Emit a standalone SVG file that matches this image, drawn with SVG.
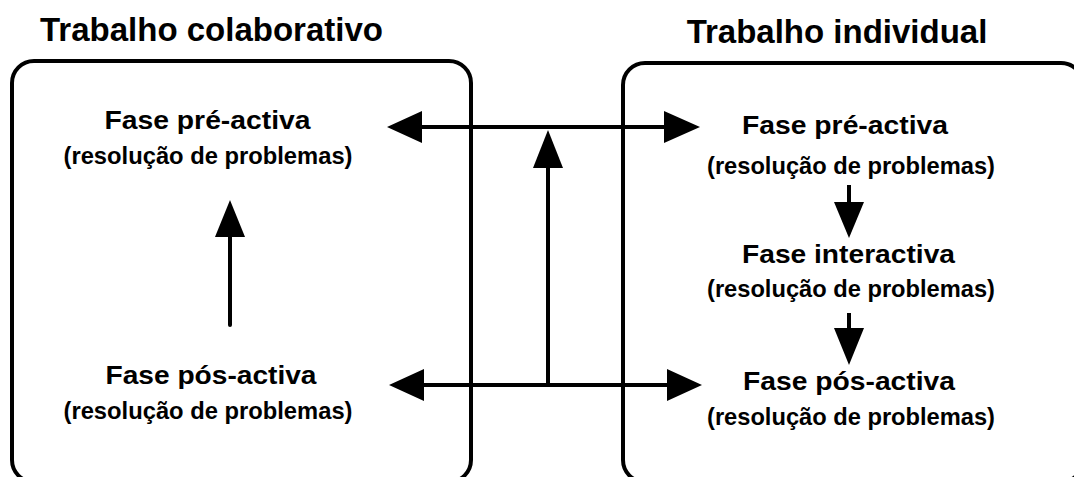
<svg xmlns="http://www.w3.org/2000/svg" width="1074" height="477" viewBox="0 0 1074 477">
<style>
  text { font-family: "Liberation Sans", Arial, sans-serif; font-weight: bold; fill: #000; text-anchor: middle; }
  .title { font-size: 33px; }
  .phase { font-size: 25px; }
  .sub { font-size: 24px; }
  .box { fill: none; stroke: #000; stroke-width: 4; }
  .line { fill: none; stroke: #000; stroke-width: 4; }
  .head { fill: #000; stroke: none; }
</style>
<rect width="1074" height="477" fill="#fff"/>
<g id="title-colaborativo"><text class="title" x="211.5" y="41">Trabalho colaborativo</text></g>
<g id="title-individual"><text class="title" x="837" y="43">Trabalho individual</text></g>
<g id="box-colaborativo"><rect class="box" x="12" y="61" width="459" height="421" rx="22" ry="22"/></g>
<g id="box-individual"><rect class="box" x="623" y="63" width="460" height="419" rx="22" ry="22"/></g>
<g id="col-pre">
  <text class="phase" x="207.5" y="129" textLength="206" lengthAdjust="spacingAndGlyphs">Fase pré-activa</text>
  <text class="sub" x="208" y="164" textLength="289" lengthAdjust="spacingAndGlyphs">(resolução de problemas)</text>
</g>
<g id="col-pos">
  <text class="phase" x="211" y="384" textLength="211" lengthAdjust="spacingAndGlyphs">Fase pós-activa</text>
  <text class="sub" x="208" y="419" textLength="289" lengthAdjust="spacingAndGlyphs">(resolução de problemas)</text>
</g>
<g id="ind-pre">
  <text class="phase" x="845" y="134" textLength="206" lengthAdjust="spacingAndGlyphs">Fase pré-activa</text>
  <text class="sub" x="851" y="174" textLength="288" lengthAdjust="spacingAndGlyphs">(resolução de problemas)</text>
</g>
<g id="ind-inter">
  <text class="phase" x="848.5" y="263" textLength="213" lengthAdjust="spacingAndGlyphs">Fase interactiva</text>
  <text class="sub" x="851" y="297" textLength="288" lengthAdjust="spacingAndGlyphs">(resolução de problemas)</text>
</g>
<g id="ind-pos">
  <text class="phase" x="849" y="390" textLength="212" lengthAdjust="spacingAndGlyphs">Fase pós-activa</text>
  <text class="sub" x="851" y="425" textLength="288" lengthAdjust="spacingAndGlyphs">(resolução de problemas)</text>
</g>
<g id="connectors">
  <line class="line" x1="420" y1="127" x2="666" y2="127"/>
  <polygon class="head" points="387,127 422,111 422,143"/>
  <polygon class="head" points="700,127 664,111 664,143"/>
  <line class="line" x1="420" y1="385" x2="668" y2="385"/>
  <polygon class="head" points="389,385 424,369 424,401"/>
  <polygon class="head" points="702,385 667,369 667,401"/>
  <line class="line" x1="548" y1="166" x2="548" y2="387"/>
  <polygon class="head" points="548,130 533,168 563,168"/>
  <line class="line" x1="230" y1="235" x2="230" y2="325" stroke-linecap="round"/>
  <polygon class="head" points="230,200 215,237 245,237"/>
  <line class="line" x1="849" y1="185" x2="849" y2="204"/>
  <polygon class="head" points="849,238 834,202 864,202"/>
  <line class="line" x1="849" y1="313" x2="849" y2="330"/>
  <polygon class="head" points="849,365 834,328 864,328"/>
</g>
</svg>
